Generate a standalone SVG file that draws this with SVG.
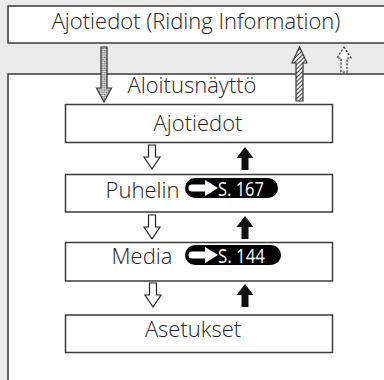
<svg xmlns="http://www.w3.org/2000/svg" width="384" height="380" viewBox="0 0 384 380">
<defs>
<style>
.bg{fill:#ebebeb}
.box{fill:#ffffff;stroke:#3a3a3a;stroke-width:1.5}
.t{font-family:"Open Sans","Liberation Sans",sans-serif;font-weight:300;font-size:22px;fill:#222;text-anchor:middle}
.bt{font-family:"Open Sans","Liberation Sans",sans-serif;font-weight:400;font-size:20.5px;fill:#fff}
.hollow{fill:#fff;stroke:#222;stroke-width:1.2;stroke-linejoin:miter}
.solid{fill:#111}
</style>
<pattern id="check" width="2.6" height="2.6" patternUnits="userSpaceOnUse" patternTransform="rotate(45)">
<rect width="2.6" height="2.6" fill="#fff"/>
<rect width="1.1" height="1.1" fill="#333"/>
<rect x="1.3" y="1.3" width="1.1" height="1.1" fill="#333"/>
</pattern>
<pattern id="hatch" width="3" height="3" patternUnits="userSpaceOnUse" patternTransform="rotate(-45)">
<rect width="3" height="3" fill="#fff"/>
<rect width="3" height="1" fill="#333"/>
</pattern>
<path id="down" d="M-3.5,0 H3.5 V12 H8 L0,24 L-8,12 H-3.5 Z"/>
<path id="up" d="M0,0 L8.5,11 H3.5 V23 H-3.5 V11 H-8.5 Z"/>
<path id="badgeArrow" d="M192,-3.5 H205 V-8 L218,0 L205,8 V3.5 H192 A3.5,3.5 0 0 1 192,-3.5 Z" fill="#fff"/>
</defs>
<rect class="bg" x="0" y="0" width="384" height="380"/>

<g id="node-riding-info">
<rect class="box" x="8" y="6" width="380" height="37"/>
<text class="t" x="196" y="28.5">Ajotiedot (Riding Information)</text>
</g>

<g id="node-aloitusnaytto">
<rect class="box" x="8" y="74" width="380" height="312"/>
<text class="t" x="192" y="92.5">Aloitusnäyttö</text>
</g>

<g id="node-ajotiedot">
<rect class="box" x="65.5" y="104.5" width="267" height="38"/>
<text class="t" x="198" y="131">Ajotiedot</text>
</g>

<g id="node-puhelin">
<rect class="box" x="65.5" y="174.5" width="267" height="37.5"/>
<text class="t" x="142.5" y="197.5">Puhelin</text>
<rect x="185" y="178" width="93" height="20" rx="10" fill="#000"/>
<use href="#badgeArrow" transform="translate(0,188)"/>
<text class="bt" x="218" y="196" textLength="46" lengthAdjust="spacingAndGlyphs">S. 167</text>
</g>

<g id="node-media">
<rect class="box" x="65.5" y="242.5" width="267" height="38.5"/>
<text class="t" x="142" y="263.5">Media</text>
<rect x="185" y="245" width="96" height="20" rx="10" fill="#000"/>
<use href="#badgeArrow" transform="translate(0,255)"/>
<text class="bt" x="218" y="263" textLength="47" lengthAdjust="spacingAndGlyphs">S. 144</text>
</g>

<g id="node-asetukset">
<rect class="box" x="65.5" y="315" width="267" height="37.5"/>
<text class="t" x="193" y="337">Asetukset</text>
</g>

<g id="connectors">
<path d="M101,47 H107 V88 H111.5 L104,102 L96.5,88 H101 Z" fill="url(#check)" stroke="#333" stroke-width="1.2"/>
<path d="M299.5,47 L307,63 H303 V101 H296 V63 H292 Z" fill="url(#hatch)" stroke="#333" stroke-width="1.2"/>
<path d="M344,47 L351,58 H347 V72 H341 V58 H337 Z" fill="#fff" stroke="#333" stroke-width="1.2" stroke-dasharray="2.2,1.5"/>
<use href="#down" class="hollow" x="152" y="145"/>
<use href="#up" class="solid" x="245" y="147"/>
<use href="#down" class="hollow" x="152" y="215"/>
<use href="#up" class="solid" x="245" y="216"/>
<use href="#down" class="hollow" x="153" y="283"/>
<use href="#up" class="solid" x="245" y="284"/>
</g>
</svg>
